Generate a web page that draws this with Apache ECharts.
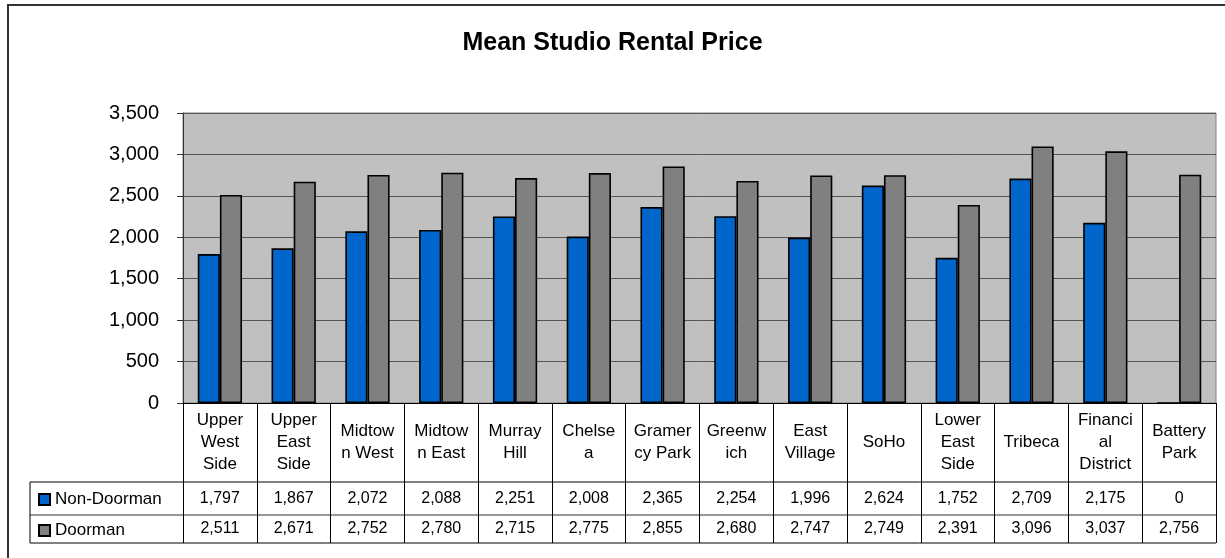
<!DOCTYPE html>
<html>
<head>
<meta charset="utf-8">
<script src="https://cdn.jsdelivr.net/npm/echarts@6/dist/echarts.min.js"></script>
<style>
html,body{margin:0;padding:0;background:#fff;}
#chart{width:1225px;height:558px;}
</style>
</head>
<body>
<div id="chart"></div>
<script>
const categories = ["Upper West Side","Upper East Side","Midtown West","Midtown East","Murray Hill","Chelsea","Gramercy Park","Greenwich","East Village","SoHo","Lower East Side","Tribeca","Financial District","Battery Park"];
const categoryLabels = ["Upper\nWest\nSide","Upper\nEast\nSide","Midtow\nn West","Midtow\nn East","Murray\nHill","Chelse\na","Gramer\ncy Park","Greenw\nich","East\nVillage","SoHo","Lower\nEast\nSide","Tribeca","Financi\nal\nDistrict","Battery\nPark"];
const nonDoorman = [1797,1867,2072,2088,2251,2008,2365,2254,1996,2624,1752,2709,2175,0];
const doorman = [2511,2671,2752,2780,2715,2775,2855,2680,2747,2749,2391,3096,3037,2756];
const yTicks = {min:0, max:3500, interval:500};
const seriesNames = ["Non-Doorman","Doorman"];
const title = "Mean Studio Rental Price";

const FONT = "'Liberation Sans', Arial, sans-serif";
const fmt = v => Number(v).toLocaleString('en-US');

const chart = echarts.init(document.getElementById('chart'));

const GL = 183, GR = 1216, GT = 113, GB = 403;
const TL = 30, ROW1 = 482, ROW2 = 515, TB = 543;

const hiddenAxisBase = {
  type:'category', data:categories, position:'bottom', gridIndex:0,
  axisLine:{show:false}, axisTick:{show:false}, splitLine:{show:false}
};

chart.setOption({
  animation:false,
  backgroundColor:'#fff',
  title:{
    text:title, left:'center', top:26,
    textStyle:{fontFamily:FONT, fontSize:25, fontWeight:'bold', color:'#000'}
  },
  legend:{
    orient:'vertical', left:TL+3, top:486, itemGap:14,
    itemWidth:11, itemHeight:11, icon:'rect',
    textStyle:{fontFamily:FONT, fontSize:17, color:'#000', padding:[0,0,0,0]},
    data:seriesNames
  },
  grid:{
    left:GL, right:1225-GR, top:GT, bottom:558-GB,
    show:true, backgroundColor:'#C0C0C0', borderColor:'#808080', borderWidth:1
  },
  yAxis:{
    type:'value', min:yTicks.min, max:yTicks.max, interval:yTicks.interval,
    axisLine:{show:true, lineStyle:{color:'#333', width:1}},
    axisTick:{show:true, length:6, lineStyle:{color:'#333'}},
    splitLine:{show:true, lineStyle:{color:'#555', width:1}},
    axisLabel:{fontFamily:FONT, fontSize:20, color:'#000', margin:24, formatter:v=>fmt(v)}
  },
  xAxis:[
    {
      type:'category', data:categories, position:'bottom',
      axisLine:{show:true, lineStyle:{color:'#000', width:1}},
      axisTick:{show:true, length:TB-GB, interval:0, lineStyle:{color:'#000', width:1}},
      axisLabel:{
        interval:0, margin:(ROW1-GB)/2, verticalAlign:'middle',
        fontFamily:FONT, fontSize:17, lineHeight:22, color:'#000',
        formatter:(v,i)=>categoryLabels[i]
      }
    },
    Object.assign({}, hiddenAxisBase, {
      axisLabel:{interval:0, margin:(ROW1+ROW2)/2-GB, verticalAlign:'middle',
        fontFamily:FONT, fontSize:16, color:'#000', formatter:(v,i)=>fmt(nonDoorman[i])}
    }),
    Object.assign({}, hiddenAxisBase, {
      axisLabel:{interval:0, margin:(ROW2+TB)/2-GB, verticalAlign:'middle',
        fontFamily:FONT, fontSize:16, color:'#000', formatter:(v,i)=>fmt(doorman[i])}
    })
  ],
  series:[
    {
      name:seriesNames[0], type:'bar', data:nonDoorman, xAxisIndex:0,
      barGap:'0%', barCategoryGap:'40%',
      itemStyle:{color:'#0066CC', borderColor:'#000', borderWidth:1.6}
    },
    {
      name:seriesNames[1], type:'bar', data:doorman, xAxisIndex:0,
      barGap:'0%', barCategoryGap:'40%',
      itemStyle:{color:'#808080', borderColor:'#000', borderWidth:1.6}
    }
  ],
  graphic:[
    {type:'rect', shape:{x:8, y:5, width:1240, height:580}, style:{fill:'none', stroke:'#333', lineWidth:2}, silent:true},
    {type:'line', shape:{x1:TL, y1:ROW1, x2:GR, y2:ROW1}, style:{stroke:'#000', lineWidth:1}, silent:true},
    {type:'line', shape:{x1:TL, y1:ROW2, x2:GR, y2:ROW2}, style:{stroke:'#333', lineWidth:1}, silent:true},
    {type:'line', shape:{x1:TL, y1:TB, x2:GR, y2:TB}, style:{stroke:'#000', lineWidth:1}, silent:true},
    {type:'line', shape:{x1:TL, y1:ROW1, x2:TL, y2:TB}, style:{stroke:'#000', lineWidth:1}, silent:true}
  ]
});
</script>
</body>
</html>
